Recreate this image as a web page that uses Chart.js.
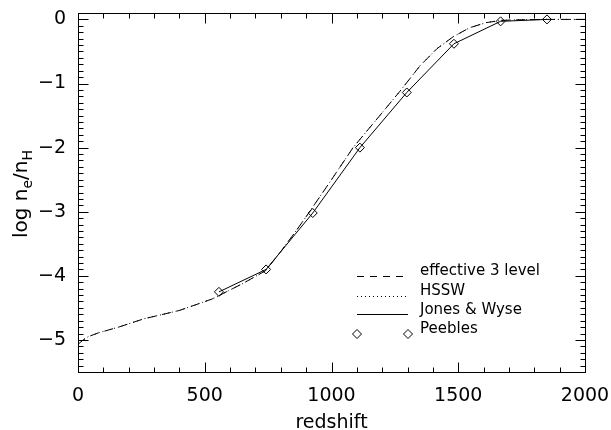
<!DOCTYPE html>
<html>
<head>
<meta charset="utf-8">
<script src="https://cdn.jsdelivr.net/npm/chart.js@4.4.1/dist/chart.umd.min.js"></script>
<style>
  html, body { margin: 0; padding: 0; background: #fff; }
  #wrap { width: 611px; height: 430px; }
</style>
</head>
<body>
<div id="wrap"><canvas id="grafico" width="611" height="430"></canvas></div>
<script>
// effective 3 level e HSSW (as duas curvas coincidem)
const redshiftModelo = [0, 20, 40, 80, 160, 260, 400, 530, 650, 740, 800, 860, 910, 1000, 1085, 1180, 1270, 1350, 1415, 1480, 1545, 1610, 1670, 1750, 1850, 2000];
const logNeModelo = [-5.07, -5.0, -4.95, -4.89, -4.80, -4.67, -4.54, -4.36, -4.12, -3.92, -3.62, -3.30, -3.02, -2.50, -2.00, -1.55, -1.12, -0.72, -0.46, -0.27, -0.13, -0.05, -0.015, -0.005, 0, 0];

// Jones & Wyse
const redshiftJW = [556, 742, 926, 1112, 1297, 1483, 1667, 1850];
const logNeJW = [-4.25, -3.90, -3.02, -2.00, -1.14, -0.38, -0.03, 0.0];

// Peebles
const redshiftPeebles = [556, 742, 926, 1112, 1297, 1483, 1667, 1850];
const logNePeebles = [-4.25, -3.90, -3.02, -2.00, -1.14, -0.38, -0.03, 0.0];

// Eixos
const xTicks = [0, 500, 1000, 1500, 2000];
const yTicks = [0, -1, -2, -3, -4, -5];
const legendLabels = ["effective 3 level", "HSSW", "Jones & Wyse", "Peebles"];

const FONTE = '"DejaVu Sans", sans-serif';

function pontos(xs, ys) {
  return xs.map((x, i) => ({ x: x, y: ys[i] }));
}

// Moldura, ticks internos (estilo IDL), título do eixo y e legenda
const eixosIDL = {
  id: 'eixosIDL',
  afterDatasetsDraw(chart) {
    const { ctx, chartArea: a, scales: { x, y } } = chart;
    ctx.save();
    ctx.strokeStyle = '#000';
    ctx.lineWidth = 1;
    ctx.setLineDash([]);
    const L = Math.round(a.left) + 0.5, R = Math.round(a.right) + 0.5;
    const T = Math.round(a.top) + 0.5, B = Math.round(a.bottom) + 0.5;
    ctx.strokeRect(L, T, R - L, B - T);

    ctx.beginPath();
    for (let k = 0; k <= 20; k++) {
      const v = k * 100;
      const px = Math.round(x.getPixelForValue(v)) + 0.5;
      const len = xTicks.includes(v) ? 10 : 5;
      ctx.moveTo(px, B); ctx.lineTo(px, B - len);
      ctx.moveTo(px, T); ctx.lineTo(px, T + len);
    }
    for (let k = -55; k <= 1; k++) {
      const v = k / 10;
      const py = Math.round(y.getPixelForValue(v)) + 0.5;
      const len = (k % 10 === 0) ? 10 : 5;
      ctx.moveTo(L, py); ctx.lineTo(L + len, py);
      ctx.moveTo(R, py); ctx.lineTo(R - len, py);
    }
    ctx.stroke();

    // título do eixo y: log n_e / n_H
    ctx.fillStyle = '#000';
    ctx.translate(21, 194);
    ctx.rotate(-Math.PI / 2);
    const partes = [['log n', 20, 0], ['e', 14, 5], ['/n', 20, 0], ['H', 14, 5]];
    let total = 0;
    partes.forEach(p => { ctx.font = p[1] + 'px ' + FONTE; total += ctx.measureText(p[0]).width; });
    let cx = -total / 2;
    ctx.textBaseline = 'alphabetic';
    partes.forEach(p => {
      ctx.font = p[1] + 'px ' + FONTE;
      ctx.fillText(p[0], cx, 6 + p[2]);
      cx += ctx.measureText(p[0]).width;
    });
    ctx.setTransform(1, 0, 0, 1, 0, 0);

    // legenda
    const linhas = [271, 291, 310, 329];
    const x0 = 357, x1 = 408, xt = 420;
    ctx.font = '15px ' + FONTE;
    ctx.textBaseline = 'middle';
    ctx.textAlign = 'left';
    legendLabels.forEach((txt, i) => ctx.fillText(txt, xt, linhas[i]));
    ctx.lineWidth = 1;
    ctx.beginPath(); ctx.setLineDash([7, 6]);
    ctx.moveTo(x0, linhas[0] + 5.5); ctx.lineTo(x1, linhas[0] + 5.5); ctx.stroke();
    ctx.beginPath(); ctx.setLineDash([1, 3]);
    ctx.moveTo(x0, linhas[1] + 5.5); ctx.lineTo(x1, linhas[1] + 5.5); ctx.stroke();
    ctx.beginPath(); ctx.setLineDash([]);
    ctx.moveTo(x0, linhas[2] + 4.5); ctx.lineTo(x1, linhas[2] + 4.5); ctx.stroke();
    const opts = { pointStyle: 'rectRot', radius: 4.5, borderWidth: 1 };
    ctx.fillStyle = '#fff';
    Chart.helpers.drawPoint(ctx, opts, x0, linhas[3] + 5);
    Chart.helpers.drawPoint(ctx, opts, x1, linhas[3] + 5);
    ctx.restore();
  }
};

const ctx = document.getElementById('grafico').getContext('2d');
new Chart(ctx, {
  type: 'scatter',
  data: {
    datasets: [
      {
        label: legendLabels[0],
        data: pontos(redshiftModelo, logNeModelo),
        showLine: true,
        borderColor: '#000',
        borderWidth: 1,
        borderDash: [9, 6],
        pointRadius: 0,
        fill: false
      },
      {
        label: legendLabels[1],
        data: pontos(redshiftModelo, logNeModelo),
        showLine: true,
        borderColor: '#000',
        borderWidth: 1,
        borderDash: [1, 3],
        pointRadius: 0,
        fill: false
      },
      {
        label: legendLabels[2],
        data: pontos(redshiftJW, logNeJW),
        showLine: true,
        borderColor: '#000',
        borderWidth: 1,
        pointRadius: 0,
        fill: false
      },
      {
        label: legendLabels[3],
        data: pontos(redshiftPeebles, logNePeebles),
        showLine: false,
        pointStyle: 'rectRot',
        pointRadius: 4.5,
        pointBackgroundColor: '#fff',
        pointBorderColor: '#000',
        pointBorderWidth: 1
      }
    ]
  },
  options: {
    responsive: false,
    animation: false,
    events: [],
    layout: { padding: { left: 0, top: 13, right: 26, bottom: 0 } },
    plugins: { legend: { display: false }, tooltip: { enabled: false } },
    scales: {
      x: {
        type: 'linear',
        min: 0,
        max: 2000,
        afterBuildTicks: s => { s.ticks = xTicks.map(v => ({ value: v })); },
        afterFit: s => { s.height = 58; s.paddingLeft = 0; s.paddingRight = 0; },
        grid: { display: false, drawTicks: false },
        border: { display: false },
        ticks: {
          padding: 13,
          color: '#000',
          font: { family: FONTE, size: 19 },
          maxRotation: 0,
          autoSkip: false,
          callback: v => String(v)
        },
        title: {
          display: true,
          text: 'redshift',
          color: '#000',
          font: { family: FONTE, size: 19 },
          padding: { top: 0, bottom: -4 }
        }
      },
      y: {
        type: 'linear',
        min: -5.5,
        max: 0.1,
        afterBuildTicks: s => { s.ticks = yTicks.map(v => ({ value: v })); },
        afterFit: s => { s.width = 78; s.paddingTop = 0; s.paddingBottom = 0; },
        grid: { display: false, drawTicks: false },
        border: { display: false },
        ticks: {
          padding: 12,
          color: '#000',
          font: { family: FONTE, size: 19 },
          autoSkip: false,
          callback: v => v === 0 ? '0' : '\u2212' + Math.abs(v)
        }
      }
    }
  },
  plugins: [eixosIDL]
});
</script>
</body>
</html>
